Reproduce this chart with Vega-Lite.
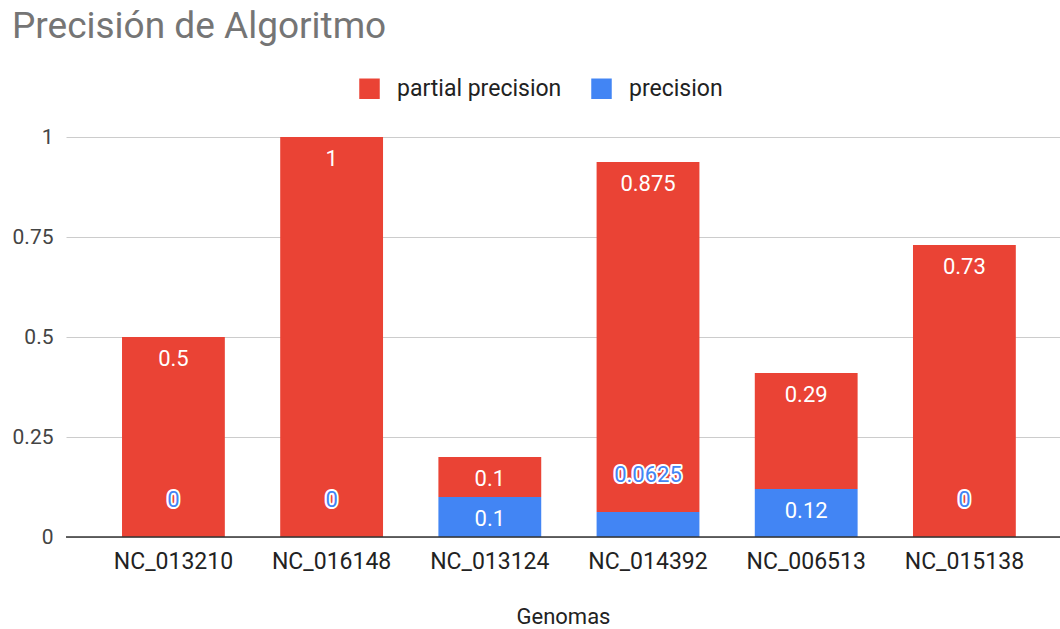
{
  "$schema": "https://vega.github.io/schema/vega-lite/v6.json",
  "width": 994,
  "height": 400,
  "autosize": {"type": "none"},
  "padding": {"left": 66, "top": 137, "right": 0, "bottom": 92},
  "background": "white",
  "config": {"font": "Roboto", "view": {"stroke": null}},
  "title": {
    "text": "Precisión de Algoritmo",
    "anchor": "start",
    "frame": "group",
    "fontSize": 37,
    "fontWeight": "normal",
    "color": "#757575",
    "font": "Roboto",
    "dx": -54,
    "offset": 31
  },
  "data": {
    "values": [
      {"genome": "NC_013210", "series": "partial precision", "value": 0.5},
      {"genome": "NC_013210", "series": "precision", "value": 0},
      {"genome": "NC_016148", "series": "partial precision", "value": 1},
      {"genome": "NC_016148", "series": "precision", "value": 0},
      {"genome": "NC_013124", "series": "partial precision", "value": 0.1},
      {"genome": "NC_013124", "series": "precision", "value": 0.1},
      {"genome": "NC_014392", "series": "partial precision", "value": 0.875},
      {"genome": "NC_014392", "series": "precision", "value": 0.0625},
      {"genome": "NC_006513", "series": "partial precision", "value": 0.29},
      {"genome": "NC_006513", "series": "precision", "value": 0.12},
      {"genome": "NC_015138", "series": "partial precision", "value": 0.73},
      {"genome": "NC_015138", "series": "precision", "value": 0}
    ]
  },
  "layer": [
    {
      "mark": {"type": "bar"},
      "encoding": {
        "x": {
          "field": "genome",
          "type": "nominal",
          "sort": null,
          "scale": {"type": "band", "paddingInner": 0.35, "paddingOuter": 0.3167, "align": 0.559},
          "axis": {
            "labelAngle": 0,
            "ticks": false,
            "domain": false,
            "labelPadding": 13,
            "labelFontSize": 23,
            "labelColor": "#222222",
            "title": "Genomas",
            "titleFontSize": 22,
            "titleFontWeight": "normal",
            "titleColor": "#222222",
            "titlePadding": 33
          }
        },
        "y": {
          "field": "value",
          "type": "quantitative",
          "aggregate": "sum",
          "stack": "zero",
          "scale": {"domain": [0, 1], "nice": false},
          "axis": {
            "values": [0, 0.25, 0.5, 0.75, 1],
            "format": ".2~f",
            "grid": true,
            "gridColor": "#cccccc",
            "domain": false,
            "ticks": false,
            "labelPadding": 13,
            "labelFontSize": 21,
            "labelColor": "#444444",
            "title": null
          }
        },
        "color": {
          "field": "series",
          "type": "nominal",
          "scale": {"domain": ["partial precision", "precision"], "range": ["#ea4335", "#4285f4"]},
          "legend": {
            "orient": "none",
            "legendX": 292,
            "legendY": -60,
            "direction": "horizontal",
            "title": null,
            "symbolType": "square",
            "symbolSize": 420,
            "symbolStrokeWidth": 0,
            "symbolOpacity": 1,
            "labelFontSize": 23,
            "labelLimit": 400,
            "labelColor": "#222222",
            "labelOffset": 16,
            "columnPadding": 28
          }
        },
        "order": {"field": "series", "sort": "descending"}
      }
    },
    {
      "mark": {"type": "text", "color": "white", "fontSize": 22, "dy": 22, "baseline": "middle"},
      "encoding": {
        "x": {"field": "genome", "type": "nominal", "sort": null},
        "y": {"field": "value", "type": "quantitative", "aggregate": "sum", "stack": "zero"},
        "detail": {"field": "series"},
        "order": {"field": "series", "sort": "descending"},
        "text": {"field": "value", "type": "quantitative", "aggregate": "sum"},
        "opacity": {"condition": {"test": "datum.series == 'partial precision'", "value": 1}, "value": 0}
      }
    },
    {
      "transform": [{"filter": "datum.series == 'precision' && datum.value >= 0.1"}],
      "mark": {"type": "text", "color": "white", "fontSize": 22, "dy": 22, "baseline": "middle"},
      "encoding": {
        "x": {"field": "genome", "type": "nominal", "sort": null},
        "y": {"field": "value", "type": "quantitative"},
        "text": {"field": "value", "type": "quantitative"}
      }
    },
    {
      "transform": [{"filter": "datum.series == 'precision' && datum.value < 0.1"}],
      "mark": {"type": "text", "fill": "white", "stroke": "white", "strokeWidth": 4, "strokeJoin": "round", "fontSize": 22, "dy": -37, "baseline": "middle"},
      "encoding": {
        "x": {"field": "genome", "type": "nominal", "sort": null},
        "y": {"field": "value", "type": "quantitative"},
        "text": {"field": "value", "type": "quantitative"}
      }
    },
    {
      "transform": [{"filter": "datum.series == 'precision' && datum.value < 0.1"}],
      "mark": {"type": "text", "color": "#4285f4", "fontSize": 22, "dy": -37, "baseline": "middle"},
      "encoding": {
        "x": {"field": "genome", "type": "nominal", "sort": null},
        "y": {"field": "value", "type": "quantitative"},
        "text": {"field": "value", "type": "quantitative"}
      }
    },
    {
      "data": {"values": [{}]},
      "mark": {"type": "rule", "color": "#333333", "strokeWidth": 1.5},
      "encoding": {"y": {"datum": 0}}
    }
  ]
}
